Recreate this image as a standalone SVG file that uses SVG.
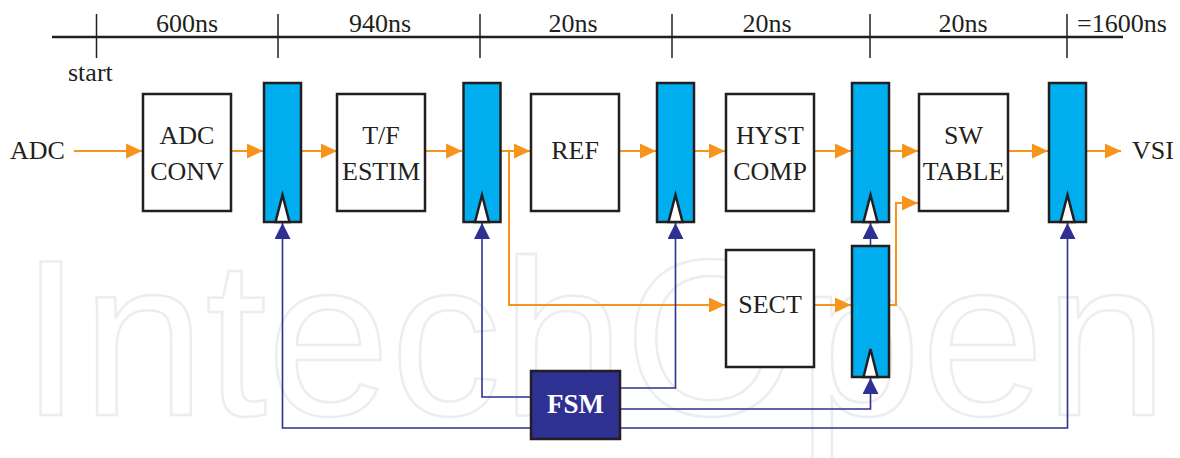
<svg xmlns="http://www.w3.org/2000/svg" width="1180" height="458" viewBox="0 0 1180 458">
<style>
  text { font-family: "Liberation Serif", "DejaVu Serif", serif; font-size: 26px; fill: #231f20; }
  .c { text-anchor: middle; }
  .wm { font-family: "Liberation Sans", Arial, sans-serif; font-size: 222px; fill: none; stroke: #ededed; stroke-width: 2.5; }
  .box { fill: #ffffff; stroke: #231f20; stroke-width: 2.5; }
  .reg { fill: #00aeef; stroke: #231f20; stroke-width: 2.5; }
  .clk { fill: #ffffff; stroke: #231f20; stroke-width: 2.5; stroke-linejoin: miter; }
  .tl { stroke: #231f20; fill: none; }
  .o { stroke: #f7941d; stroke-width: 2; fill: none; marker-end: url(#ao); }
  .b { stroke: #2e3192; stroke-width: 1.6; fill: none; marker-end: url(#ab); }
  .fsm { fill: #2e3192; stroke: #231f20; stroke-width: 2.5; }
  .fsmt { fill: #ffffff; font-weight: bold; font-size: 27px; }
</style>
<defs>
  <marker id="ao" viewBox="0 0 16 15" refX="16" refY="7.5" markerWidth="16" markerHeight="15" markerUnits="userSpaceOnUse" orient="auto">
    <path d="M0,0 L16,7.5 L0,15 Z" fill="#f7941d"/>
  </marker>
  <marker id="ab" viewBox="0 0 16 16" refX="16" refY="8" markerWidth="16" markerHeight="16" markerUnits="userSpaceOnUse" orient="auto">
    <path d="M0,0 L16,8 L0,16 Z" fill="#2e3192"/>
  </marker>
</defs>

<text class="wm" x="20" y="415">IntechOpen</text>

<g id="timeline">
  <line class="tl" x1="52" y1="37" x2="1123" y2="37" stroke-width="2.5"/>
  <g class="tl" stroke-width="1.5">
    <line x1="96.5" y1="14" x2="96.5" y2="58"/>
    <line x1="278" y1="14" x2="278" y2="58"/>
    <line x1="480" y1="14" x2="480" y2="58"/>
    <line x1="672" y1="14" x2="672" y2="58"/>
    <line x1="870" y1="14" x2="870" y2="58"/>
    <line x1="1067" y1="14" x2="1067" y2="58"/>
  </g>
  <text class="c" x="187" y="32">600ns</text>
  <text class="c" x="380" y="32">940ns</text>
  <text class="c" x="573" y="32">20ns</text>
  <text class="c" x="767" y="32">20ns</text>
  <text class="c" x="963" y="32">20ns</text>
  <text x="1077" y="32">=1600ns</text>
  <text x="68" y="81">start</text>
</g>

<g id="connectors">
  <line class="o" x1="74" y1="151" x2="142" y2="151"/>
  <line class="o" x1="231" y1="151" x2="263" y2="151"/>
  <line class="o" x1="301" y1="151" x2="337" y2="151"/>
  <line class="o" x1="425" y1="151" x2="462" y2="151"/>
  <line class="o" x1="501" y1="151" x2="530" y2="151"/>
  <line class="o" x1="619" y1="151" x2="656" y2="151"/>
  <line class="o" x1="694" y1="151" x2="725" y2="151"/>
  <line class="o" x1="814" y1="151" x2="851" y2="151"/>
  <line class="o" x1="890" y1="151" x2="918" y2="151"/>
  <line class="o" x1="1008" y1="151" x2="1048" y2="151"/>
  <line class="o" x1="1086" y1="151" x2="1121" y2="151"/>
  <path class="o" d="M509,151 V305 H725"/>
  <line class="o" x1="814" y1="305" x2="851" y2="305"/>
  <path class="o" d="M889,305 H896 V203 H918"/>

  <path class="b" d="M531,428 H282.5 V223"/>
  <path class="b" d="M531,397 H482 V223"/>
  <path class="b" d="M620,388 H675.5 V223"/>
  <path class="b" d="M620,409 H870.5 V378"/>
  <path class="b" d="M620,428 H1067.5 V223"/>
  <path class="b" d="M870.5,246 V223"/>
</g>

<g id="adc-label"><text x="10" y="159">ADC</text></g>
<g id="vsi-label"><text x="1132" y="159">VSI</text></g>

<g id="adc-conv">
  <rect class="box" x="143" y="94" width="88" height="117"/>
  <text class="c" x="187" y="144">ADC</text>
  <text class="c" x="187" y="180">CONV</text>
</g>
<g id="tf-estim">
  <rect class="box" x="337" y="94" width="88" height="117"/>
  <text class="c" x="381" y="144">T/F</text>
  <text class="c" x="381" y="180">ESTIM</text>
</g>
<g id="ref">
  <rect class="box" x="531" y="94" width="88" height="117"/>
  <text class="c" x="575" y="159">REF</text>
</g>
<g id="hyst-comp">
  <rect class="box" x="726" y="94" width="88" height="117"/>
  <text class="c" x="770" y="144">HYST</text>
  <text class="c" x="770" y="180">COMP</text>
</g>
<g id="sw-table">
  <rect class="box" x="919" y="94" width="89" height="117"/>
  <text class="c" x="963.5" y="144">SW</text>
  <text class="c" x="963.5" y="180">TABLE</text>
</g>
<g id="sect">
  <rect class="box" x="726" y="250" width="88" height="117"/>
  <text class="c" x="770" y="313">SECT</text>
</g>

<g id="reg1">
  <rect class="reg" x="264" y="83" width="37" height="139"/>
  <path class="clk" d="M275.5,222 L282.5,195 L289.5,222 Z"/>
</g>
<g id="reg2">
  <rect class="reg" x="463.5" y="83" width="37" height="139"/>
  <path class="clk" d="M475,222 L482,195 L489,222 Z"/>
</g>
<g id="reg3">
  <rect class="reg" x="657" y="83" width="37" height="139"/>
  <path class="clk" d="M668.5,222 L675.5,195 L682.5,222 Z"/>
</g>
<g id="reg4">
  <rect class="reg" x="852" y="83" width="37" height="139"/>
  <path class="clk" d="M863.5,222 L870.5,195 L877.5,222 Z"/>
</g>
<g id="reg5">
  <rect class="reg" x="1049" y="83" width="37" height="139"/>
  <path class="clk" d="M1060.5,222 L1067.5,195 L1074.5,222 Z"/>
</g>
<g id="reg6">
  <rect class="reg" x="852" y="246" width="37" height="131"/>
  <path class="clk" d="M863.5,377 L870.5,349 L877.5,377 Z"/>
</g>

<g id="fsm">
  <rect class="fsm" x="531" y="371" width="89" height="68"/>
  <text class="c fsmt" x="575.5" y="413">FSM</text>
</g>
</svg>
